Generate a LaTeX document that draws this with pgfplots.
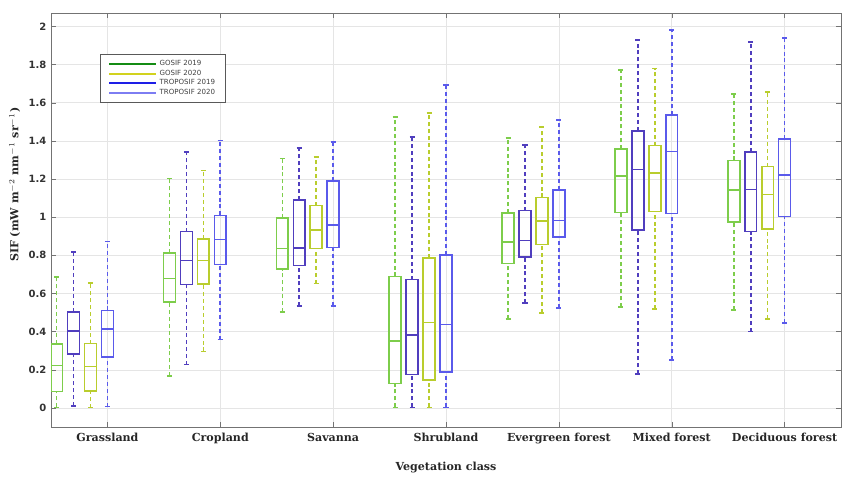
\documentclass[border=0pt]{standalone}
\usepackage{pgfplots}
\pgfplotsset{compat=1.18}
\usepackage{pgfplotstable}
\usepgfplotslibrary{statistics}
\usepackage{fontspec}
\setmainfont{DejaVu Serif}
\newfontfamily\ticksans{DejaVu Sans}

\definecolor{gA}{RGB}{125,205,75}
\definecolor{tA}{RGB}{80,62,190}
\definecolor{gB}{RGB}{185,205,45}
\definecolor{tB}{RGB}{90,90,235}
\definecolor{lgA}{RGB}{20,140,20}
\definecolor{lgB}{RGB}{210,210,30}
\definecolor{ltA}{RGB}{30,30,230}
\definecolor{ltB}{RGB}{125,125,242}

\pgfplotsset{myline/.style={legend image code/.code={\draw[##1] (0pt,0pt) -- (35pt,0pt);}}}

% rows: Grassland, Cropland, Savanna, Shrubland, Evergreen, Mixed, Deciduous
\pgfplotstableread{
lw    lq    med   uq    uw
0.003 0.087 0.222 0.336 0.686
0.166 0.554 0.679 0.813 1.202
0.502 0.728 0.836 0.995 1.308
0.003 0.128 0.352 0.689 1.526
0.467 0.756 0.869 1.021 1.416
0.528 1.024 1.216 1.356 1.772
0.512 0.976 1.142 1.297 1.645
}\gosifA
\pgfplotstableread{
lw    lq    med   uq    uw
0.010 0.283 0.402 0.504 0.817
0.227 0.646 0.773 0.924 1.342
0.533 0.747 0.838 1.090 1.363
0.003 0.176 0.383 0.673 1.421
0.549 0.791 0.878 1.034 1.377
0.178 0.932 1.249 1.453 1.930
0.400 0.924 1.144 1.343 1.919
}\troposifA
\pgfplotstableread{
lw    lq    med   uq    uw
0.002 0.089 0.217 0.337 0.656
0.296 0.651 0.773 0.887 1.244
0.652 0.836 0.932 1.060 1.315
0.003 0.145 0.448 0.785 1.545
0.499 0.856 0.979 1.103 1.472
0.520 1.030 1.232 1.375 1.779
0.467 0.938 1.118 1.265 1.655
}\gosifB
\pgfplotstableread{
lw    lq    med   uq    uw
0.007 0.268 0.413 0.511 0.873
0.358 0.751 0.883 1.009 1.402
0.533 0.841 0.958 1.190 1.393
0.003 0.189 0.437 0.801 1.692
0.525 0.897 0.983 1.143 1.510
0.251 1.020 1.344 1.534 1.982
0.446 1.003 1.221 1.411 1.938
}\troposifB

% #1 table, #2 row, #3 colour, #4 draw position
\newcommand\mybox[4]{%
  \pgfplotstablegetelem{#2}{lw}\of#1\let\bLW\pgfplotsretval
  \pgfplotstablegetelem{#2}{lq}\of#1\let\bLQ\pgfplotsretval
  \pgfplotstablegetelem{#2}{med}\of#1\let\bMED\pgfplotsretval
  \pgfplotstablegetelem{#2}{uq}\of#1\let\bUQ\pgfplotsretval
  \pgfplotstablegetelem{#2}{uw}\of#1\let\bUW\pgfplotsretval
  \edef\tmp{\noexpand\addplot[forget plot, draw=#3, color=#3, line width=1.2pt,
    boxplot prepared={draw direction=y, draw position=#4, lower whisker=\bLW, lower quartile=\bLQ,
      median=\bMED, upper quartile=\bUQ, upper whisker=\bUW}] coordinates {};}%
  \tmp}

\begin{document}
\begin{tikzpicture}
\begin{axis}[
  name=ax,
  scale only axis,
  width=592.5pt, height=310.5pt,
  xmin=0.5, xmax=7.5, ymin=-0.1, ymax=2.07,
  xtick={1,...,7},
  xticklabels={Grassland,Cropland,Savanna,Shrubland,Evergreen forest,Mixed forest,Deciduous forest},
  ytick={0,0.2,...,2.01},
  yticklabel style={/pgf/number format/fixed,/pgf/number format/precision=1},
  /pgf/number format/assume math mode=true,
  tick label style={font=\ticksans\bfseries\fontsize{7.5}{9}\selectfont, text=black!80},
  xticklabel style={font=\bfseries\fontsize{8.3}{10}\selectfont, text=black!85, yshift=-1pt},
  xlabel={Vegetation class},
  ylabel={SIF (mW m$^{-2}$ nm$^{-1}$ sr$^{-1}$)},
  every axis x label/.style={at={(axis description cs:0.5,-0.097)}, anchor=center, font=\bfseries\fontsize{8.3}{10}\selectfont, text=black!85},
  every axis y label/.style={at={(axis description cs:-0.046,0.585)}, rotate=90, anchor=center, font=\bfseries\fontsize{8.3}{10}\selectfont, text=black!85},
  grid=major,
  major grid style={black!10},
  axis line style={black!55},
  tick style={black!55},
  major tick length=4pt,
  legend style={at={(axis description cs:0.062,0.901)}, anchor=north west,
    draw=black!65, font=\ticksans\fontsize{5.3}{6}\selectfont, text=black!75,
    inner xsep=6pt, inner ysep=2.5pt, row sep=-2.2pt, cells={anchor=west}},
  legend cell align=left,
  boxplot/box extend=0.105,
  boxplot/whisker extend=0.045,
  boxplot/draw/lower whisker/.code={%
    \draw[/pgfplots/boxplot/every whisker/.try, dash pattern=on 3pt off 2.2pt]
      (boxplot box cs:\pgfplotsboxplotvalue{lower whisker},0.5) --
      (boxplot box cs:\pgfplotsboxplotvalue{lower quartile},0.5);
    \draw[/pgfplots/boxplot/every whisker/.try, solid]
      (boxplot whisker cs:\pgfplotsboxplotvalue{lower whisker},0) --
      (boxplot whisker cs:\pgfplotsboxplotvalue{lower whisker},1);
  },
  boxplot/draw/upper whisker/.code={%
    \draw[/pgfplots/boxplot/every whisker/.try, dash pattern=on 3pt off 2.2pt]
      (boxplot box cs:\pgfplotsboxplotvalue{upper quartile},0.5) --
      (boxplot box cs:\pgfplotsboxplotvalue{upper whisker},0.5);
    \draw[/pgfplots/boxplot/every whisker/.try, solid]
      (boxplot whisker cs:\pgfplotsboxplotvalue{upper whisker},0) --
      (boxplot whisker cs:\pgfplotsboxplotvalue{upper whisker},1);
  },
]
\addlegendimage{myline, lgA, line width=1.5pt}\addlegendentry{GOSIF 2019}
\addlegendimage{myline, lgB, line width=1.5pt}\addlegendentry{GOSIF 2020}
\addlegendimage{myline, ltA, line width=1.5pt}\addlegendentry{TROPOSIF 2019}
\addlegendimage{myline, ltB, line width=1.5pt}\addlegendentry{TROPOSIF 2020}

\pgfplotsinvokeforeach{0,...,6}{
  \mybox{\gosifA}{#1}{gA}{#1+0.55}
  \mybox{\troposifA}{#1}{tA}{#1+0.70}
  \mybox{\gosifB}{#1}{gB}{#1+0.85}
  \mybox{\troposifB}{#1}{tB}{#1+1.00}
}
\end{axis}
\path ([xshift=-38.25pt,yshift=-37.5pt]ax.south west) rectangle ([xshift=2.25pt,yshift=9.75pt]ax.north east);
\end{tikzpicture}
\end{document}
